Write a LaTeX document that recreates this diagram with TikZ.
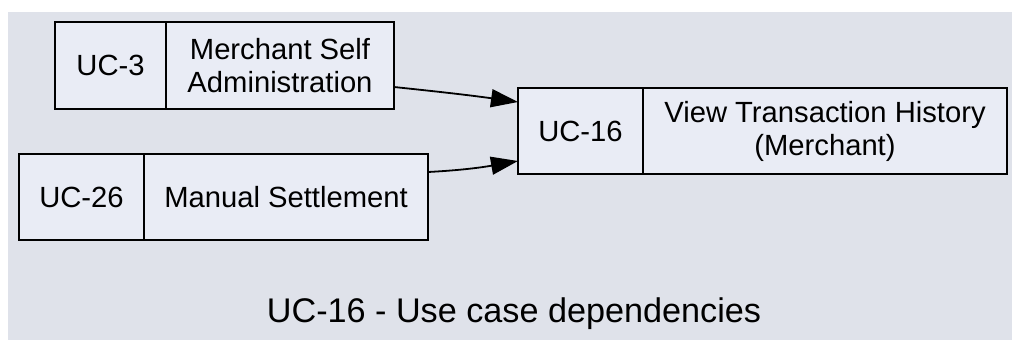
\documentclass[tikz,border=0pt]{standalone}
\usepackage{fontspec}
\setmainfont{Liberation Sans}
\usetikzlibrary{arrows.meta}
\definecolor{bgcol}{HTML}{DFE2EA}
\definecolor{boxcol}{HTML}{E9ECF5}
\begin{document}
\begin{tikzpicture}[x=1pt,y=-1pt,
  part/.style={draw=black,fill=boxcol,line width=2pt,inner sep=0pt,outer sep=0pt,
    anchor=north west,align=center,font=\fontsize{29.2}{33}\selectfont},
  dep/.style={line width=1.8pt,-{Triangle[length=27pt,width=18pt]}}]
\useasboundingbox (0,0) rectangle (1012,340);
\fill[bgcol] (8,12) rectangle (1012,340);
% UC-3
\node[part,minimum width=111pt,minimum height=87pt] (uc3id) at (55,22) {UC-3};
\node[part,minimum width=228pt,minimum height=87pt] (uc3name) at (166,22) {Merchant Self\\Administration};
% UC-26
\node[part,minimum width=125pt,minimum height=86pt] (uc26id) at (19,154) {UC-26};
\node[part,minimum width=284pt,minimum height=86pt] (uc26name) at (144,154) {Manual Settlement};
% UC-16
\node[part,minimum width=125pt,minimum height=86pt] (uc16id) at (518,88) {UC-16};
\node[part,minimum width=364pt,minimum height=86pt] (uc16name) at (643,88) {View Transaction History\\(Merchant)};
% edges
\draw[dep] ([yshift=-21.5pt]uc3name.east) to[out=-6,in=172] ([yshift=29pt]uc16id.west);
\draw[dep] ([yshift=25pt]uc26name.east) to[out=3,in=190] ([yshift=-30pt]uc16id.west);
% caption
\node[font=\fontsize{34.2}{40}\selectfont,anchor=base] (cap) at (514,322) {UC-16 - Use case dependencies};
\end{tikzpicture}
\end{document}
